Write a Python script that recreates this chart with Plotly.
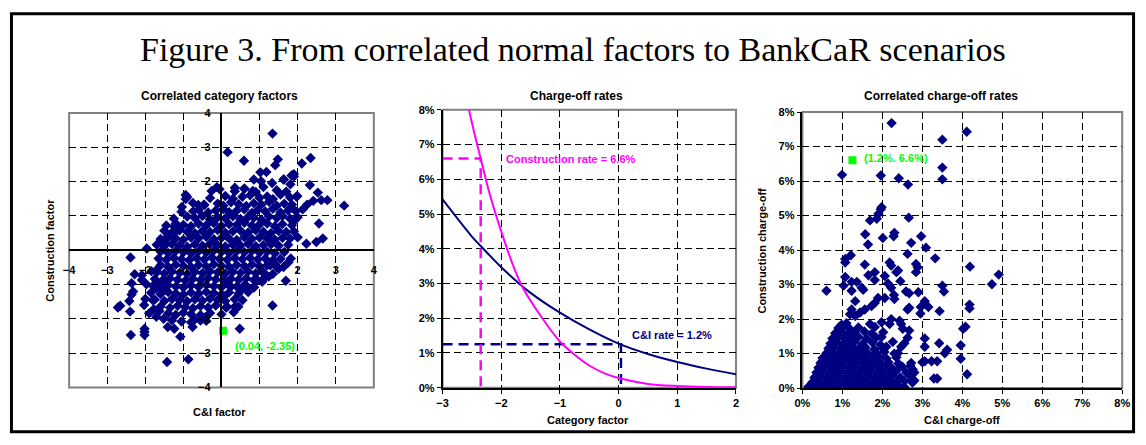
import plotly.graph_objects as go

W, H = 1146, 445

# ---------------------------------------------------------------- data
TITLE = "Figure 3. From correlated normal factors to BankCaR scenarios"
PANEL_TITLES = ["Correlated category factors", "Charge-off rates", "Correlated charge-off rates"]

# Panel 1 - dense core of simulated factors (C&I factor, Construction factor)
ci_factor_core = [
    -0.05, 0.35, 0.6, 0.9, 1.1, 1.45, 1.7,
    -0.9, -0.3, 0.1, 0.3, 0.55, 0.75, 1.0, 1.2, 1.35, 1.55, 1.8,
    -0.75, -0.45, -0.1, 0.05, 0.25, 0.45, 0.65, 0.85, 1.05, 1.25, 1.45, 1.65, 1.85,
    -1.05, -0.6, -0.35, -0.15, 0.05, 0.2, 0.4, 0.6, 0.8, 0.95, 1.15, 1.35, 1.55, 1.75, 1.95,
    -1.25, -0.9, -0.7, -0.5, -0.3, -0.1, 0.1, 0.3, 0.5, 0.7, 0.85, 1.05, 1.25, 1.45, 1.6, 1.8, 2.0,
    -1.45, -1.2, -1.0, -0.8, -0.6, -0.4, -0.2, 0.0, 0.2, 0.4, 0.6, 0.8, 1.0, 1.2, 1.4, 1.6, 1.85,
    -1.5, -1.3, -1.1, -0.9, -0.7, -0.5, -0.3, -0.1, 0.1, 0.3, 0.5, 0.7, 0.9, 1.1, 1.3, 1.5, 1.7, 1.9,
    -1.6, -1.4, -1.2, -1.0, -0.8, -0.6, -0.4, -0.2, 0.0, 0.2, 0.4, 0.6, 0.8, 1.0, 1.2, 1.4, 1.6, 1.8, 2.0,
    -1.7, -1.5, -1.3, -1.1, -0.9, -0.7, -0.5, -0.3, -0.1, 0.1, 0.3, 0.5, 0.7, 0.9, 1.1, 1.3, 1.5, 1.75,
    -1.6, -1.4, -1.2, -1.0, -0.8, -0.6, -0.4, -0.2, 0.0, 0.2, 0.4, 0.6, 0.8, 1.0, 1.2, 1.4, 1.65,
    -1.65, -1.45, -1.25, -1.05, -0.85, -0.65, -0.45, -0.25, -0.05, 0.15, 0.35, 0.55, 0.75, 0.95, 1.15, 1.35, 1.55,
    -1.6, -1.4, -1.2, -1.0, -0.8, -0.6, -0.4, -0.2, 0.0, 0.2, 0.4, 0.6, 0.8, 1.0, 1.2, 1.45,
    -1.7, -1.5, -1.3, -1.1, -0.9, -0.7, -0.5, -0.3, -0.1, 0.1, 0.3, 0.5, 0.7, 0.9, 1.1, 1.35,
    -1.75, -1.55, -1.35, -1.15, -0.95, -0.75, -0.55, -0.35, -0.15, 0.05, 0.25, 0.45, 0.65, 0.85, 1.1,
    -1.8, -1.6, -1.4, -1.2, -1.0, -0.8, -0.6, -0.4, -0.2, 0.0, 0.2, 0.4, 0.6, 0.85,
    -1.85, -1.6, -1.4, -1.2, -1.0, -0.8, -0.6, -0.4, -0.2, 0.0, 0.2, 0.45, 0.7,
    -1.75, -1.5, -1.3, -1.1, -0.9, -0.7, -0.5, -0.3, -0.1, 0.1, 0.35, 0.55,
    -1.6, -1.35, -1.15, -0.95, -0.75, -0.55, -0.35, -0.15, 0.15,
    -1.4, -1.2, -1.0, -0.8, -0.55, -0.3, 0.0,
    -1.3, -1.05, -0.7, -0.4,
]
con_factor_core = [
    1.78, 1.72, 1.80, 1.70, 1.84, 1.75, 1.71,
    1.55, 1.52, 1.58, 1.50, 1.56, 1.60, 1.53, 1.57, 1.49, 1.62, 1.54,
    1.38, 1.32, 1.36, 1.30, 1.40, 1.34, 1.29, 1.37, 1.33, 1.41, 1.30, 1.36, 1.33,
    1.12, 1.18, 1.10, 1.16, 1.20, 1.11, 1.15, 1.19, 1.09, 1.17, 1.13, 1.21, 1.10, 1.16, 1.14,
    0.92, 0.98, 0.94, 1.00, 0.90, 0.96, 0.93, 0.99, 0.91, 0.97, 0.95, 0.89, 0.98, 0.94, 1.00, 0.92, 0.96,
    0.72, 0.78, 0.74, 0.70, 0.77, 0.73, 0.79, 0.71, 0.76, 0.74, 0.80, 0.72, 0.75, 0.78, 0.70, 0.76, 0.73,
    0.57, 0.52, 0.58, 0.54, 0.50, 0.56, 0.53, 0.59, 0.51, 0.55, 0.57, 0.52, 0.58, 0.54, 0.50, 0.56, 0.53, 0.55,
    0.33, 0.38, 0.34, 0.31, 0.37, 0.35, 0.39, 0.32, 0.36, 0.34, 0.30, 0.38, 0.33, 0.37, 0.35, 0.31, 0.36, 0.34, 0.38,
    0.16, 0.12, 0.18, 0.14, 0.10, 0.17, 0.13, 0.19, 0.15, 0.11, 0.16, 0.14, 0.18, 0.12, 0.15, 0.17, 0.13, 0.16,
    -0.04, -0.08, -0.02, -0.06, -0.09, -0.03, -0.07, -0.01, -0.05, -0.08, -0.03, -0.06, -0.02, -0.07, -0.04, -0.09, -0.05,
    -0.24, -0.28, -0.22, -0.26, -0.29, -0.23, -0.27, -0.21, -0.25, -0.28, -0.23, -0.26, -0.22, -0.27, -0.24, -0.29, -0.25,
    -0.44, -0.48, -0.42, -0.46, -0.49, -0.43, -0.47, -0.41, -0.45, -0.48, -0.43, -0.46, -0.42, -0.47, -0.44, -0.49,
    -0.64, -0.68, -0.62, -0.66, -0.69, -0.63, -0.67, -0.61, -0.65, -0.68, -0.63, -0.66, -0.62, -0.67, -0.64, -0.69,
    -0.84, -0.88, -0.82, -0.86, -0.89, -0.83, -0.87, -0.81, -0.85, -0.88, -0.83, -0.86, -0.82, -0.87, -0.84,
    -1.04, -1.08, -1.02, -1.06, -1.09, -1.03, -1.07, -1.01, -1.05, -1.08, -1.03, -1.06, -1.02, -1.07,
    -1.24, -1.28, -1.22, -1.26, -1.29, -1.23, -1.27, -1.21, -1.25, -1.28, -1.23, -1.26, -1.22,
    -1.44, -1.48, -1.42, -1.46, -1.49, -1.43, -1.47, -1.41, -1.45, -1.48, -1.43, -1.46,
    -1.64, -1.68, -1.62, -1.66, -1.69, -1.63, -1.67, -1.61, -1.65,
    -1.84, -1.88, -1.82, -1.86, -1.89, -1.83, -1.87,
    -2.04, -2.08, -2.02, -2.06,
]
# Panel 1 - scattered outer points
ci_factor_tail = [
    -0.12, -0.26, -0.94, -0.94, -1.04, -0.74, -0.61, -0.46, -1.24, -1.15, -1.41, -1.50, -1.96,
    1.34, 0.16, 0.59, 1.48, 1.41, 2.11, 2.34, 1.02, 1.18, 0.85, 1.33, 1.63, 1.84, 1.90, 2.32,
    2.53, 2.41, 2.62, 2.78, 3.22, 2.25, 2.13, 2.56, 2.23, 2.49, 2.66, 1.97, 1.82, 1.93,
    -2.39, -2.28, -2.36, -2.09, -2.09, -1.97, -1.84, -1.71, -1.71, -1.71, -1.50, -1.46, -2.32,
    -2.36, -2.42, -2.72, -2.66, -2.40, -2.00, -2.03, -1.90, -1.78, -1.80, -1.71, -1.63, -1.52,
    -1.41, -1.24, -1.08, -2.38, -2.02, -2.02, -2.02, -1.43, -0.87, -0.76, -0.80, -0.55, -0.42,
    0.48, 1.34, 1.69, 0.35, 0.44, 0.32, 0.12, 0.07, 0.12, 0.25, 0.51, 0.68, 0.85, 0.94, 1.07,
    1.24, 1.28, 1.50, 1.63, 1.82, 1.76, 1.07, 1.41,
    1.64, 1.90, 1.81, 1.99, 0.35, 0.60, 0.82, 1.04,
]
con_factor_tail = [
    1.84, 1.73, 1.61, 1.49, 1.26, 1.14, 1.32, 1.33, 0.69, 0.59, 0.41, 0.22, 0.05,
    3.40, 2.86, 2.61, 2.65, 2.48, 2.53, 2.69, 2.27, 2.28, 2.06, 1.96, 2.06, 2.18, 2.22, 1.90,
    1.68, 1.44, 1.46, 1.46, 1.30, 1.33, 1.19, 0.78, 0.19, 0.24, 0.34, 1.56, 1.24, 0.88,
    -0.21, -0.70, -0.96, -0.73, -0.87, -0.99, -0.61, -0.58, -0.94, -1.10, -0.87, -1.15, -1.20,
    -1.29, -1.48, -1.67, -1.62, -1.79, -1.42, -1.60, -1.84, -1.72, -1.46, -1.94, -1.77, -2.00,
    -2.24, -2.29, -2.52, -2.47, -2.29, -2.38, -2.47, -3.26, -3.18, -2.24, -2.10, -2.05, -1.95,
    -2.29, -1.61, -0.89, -1.65, -1.65, -1.81, -1.67, -1.34, -0.92, -1.06, -1.15, -1.06, -1.09, -0.87, -0.92,
    -0.77, -0.44, -0.54, -0.49, -0.24, -0.35, -0.63, -0.40,
    2.06, 2.15, 1.92, 1.58, 1.82, 1.79, 1.73, 2.01,
]
scenario_ci_factor = [0.04]
scenario_con_factor = [-2.35]
scenario_factor_label = "(0.04, -2.35)"

# Panel 2 - charge-off rate curves (%) read along the category factor
curve_factor_ci = [-3.0, -2.5, -2.35, -2.0, -1.5, -1.0, -0.5, 0.0, 0.5, 1.0, 1.5, 2.0]
curve_rate_ci = [5.42, 4.35, 4.08, 3.47, 2.73, 2.16, 1.68, 1.27, 0.97, 0.74, 0.55, 0.39]
curve_factor_con = [-2.55, -2.45, -2.35, -2.2, -2.0, -1.8, -1.64, -1.3, -1.0, -0.75, -0.5,
                    -0.25, 0.0, 0.5, 1.0, 1.5, 2.0]
curve_rate_con = [8.0, 7.27, 6.6, 5.6, 4.5, 3.53, 2.9, 2.0, 1.33, 0.95, 0.64,
                  0.42, 0.28, 0.11, 0.05, 0.02, 0.01]
scenario_ci_rate = [1.25]
scenario_con_rate = [6.6]
rate_labels = ["Construction rate = 6.6%", "C&I rate = 1.2%"]

# Panel 3 - correlated charge-off rates (%), dense core
ci_rate_core = [
    0.15, 0.3, 0.45, 0.6, 0.75, 0.9, 1.05, 1.2, 1.35, 1.5, 1.65, 1.8, 1.95, 2.1, 2.25, 2.4, 2.55,
    0.25, 0.4, 0.55, 0.7, 0.85, 1.0, 1.15, 1.3, 1.45, 1.6, 1.75, 1.9, 2.05, 2.2, 2.35, 2.55, 2.75,
    0.3, 0.45, 0.6, 0.75, 0.9, 1.05, 1.2, 1.35, 1.5, 1.65, 1.8, 1.95, 2.1, 2.25, 2.45, 2.7,
    0.35, 0.5, 0.65, 0.8, 0.95, 1.1, 1.25, 1.4, 1.55, 1.7, 1.85, 2.0, 2.15, 2.35, 2.6,
    0.4, 0.55, 0.7, 0.85, 1.0, 1.15, 1.3, 1.45, 1.6, 1.75, 1.9, 2.05, 2.25, 2.5,
    0.45, 0.6, 0.75, 0.9, 1.05, 1.2, 1.35, 1.5, 1.65, 1.8, 1.95, 2.15, 2.4,
    0.5, 0.68, 0.82, 0.97, 1.12, 1.27, 1.42, 1.57, 1.72, 1.9, 2.1, 2.35,
    0.6, 0.75, 0.9, 1.05, 1.2, 1.35, 1.5, 1.65, 1.85, 2.05, 2.3,
    0.65, 0.8, 0.95, 1.1, 1.25, 1.4, 1.58, 1.8, 2.0,
    0.7, 0.85, 1.0, 1.15, 1.3, 1.5, 1.75, 1.95,
    0.75, 0.9, 1.05, 1.2, 1.4, 1.6, 1.85,
    0.82, 0.97, 1.12, 1.3, 1.55,
    0.9, 1.02, 1.18, 1.4,
    0.98, 1.1,
]
con_rate_core = [
    0.04, 0.08, 0.03, 0.07, 0.05, 0.02, 0.09, 0.04, 0.06, 0.03, 0.08, 0.05, 0.02, 0.07, 0.04, 0.06, 0.03,
    0.17, 0.21, 0.15, 0.19, 0.22, 0.16, 0.20, 0.14, 0.18, 0.21, 0.16, 0.19, 0.15, 0.22, 0.17, 0.20, 0.16,
    0.31, 0.35, 0.29, 0.33, 0.36, 0.30, 0.34, 0.28, 0.32, 0.35, 0.30, 0.33, 0.29, 0.36, 0.31, 0.34,
    0.45, 0.49, 0.43, 0.47, 0.50, 0.44, 0.48, 0.42, 0.46, 0.49, 0.44, 0.47, 0.43, 0.50, 0.45,
    0.59, 0.63, 0.57, 0.61, 0.64, 0.58, 0.62, 0.56, 0.60, 0.63, 0.58, 0.61, 0.57, 0.62,
    0.73, 0.77, 0.71, 0.75, 0.78, 0.72, 0.76, 0.70, 0.74, 0.77, 0.72, 0.75, 0.71,
    0.87, 0.91, 0.85, 0.89, 0.92, 0.86, 0.90, 0.84, 0.88, 0.91, 0.86, 0.89,
    1.01, 1.05, 0.99, 1.03, 1.06, 1.00, 1.04, 0.98, 1.02, 1.05, 1.00,
    1.15, 1.19, 1.13, 1.17, 1.20, 1.14, 1.18, 1.12, 1.16,
    1.29, 1.33, 1.27, 1.31, 1.34, 1.28, 1.32, 1.26,
    1.44, 1.48, 1.42, 1.46, 1.49, 1.43, 1.47,
    1.59, 1.63, 1.57, 1.61, 1.64,
    1.74, 1.78, 1.72, 1.76,
    1.84, 1.88,
]
# Panel 3 - scattered outer points (%)
ci_rate_tail = [
    2.23, 3.50, 3.50, 3.50, 0.99, 1.96, 2.41, 2.64, 1.98, 1.96, 1.90, 1.86, 1.69, 2.66, 1.57,
    2.01, 1.64, 2.30, 2.28, 2.72, 2.97, 3.09, 4.11,
    1.21, 1.07, 1.07, 1.56, 2.18, 2.22, 2.63, 2.84, 2.88, 2.84, 3.32, 1.65, 1.81, 1.81, 2.06,
    2.14, 2.35, 2.39, 1.07, 1.03, 0.60, 1.23, 1.36, 1.48, 1.52, 1.23, 2.45, 2.22, 2.29, 2.30,
    2.59, 2.67, 2.90, 3.06, 3.15, 2.96, 2.67, 2.63, 2.95, 3.43, 3.50, 3.54, 1.89, 2.06, 1.81,
    1.73, 1.56, 1.32, 1.23, 1.19, 1.32, 1.44, 1.69, 1.73, 1.81, 1.98, 2.02, 1.98, 2.18, 2.22,
    2.43, 2.47, 2.51, 2.63, 2.67, 3.06, 3.06, 3.42, 3.62, 3.56, 3.00, 3.06, 3.23, 3.37, 3.29,
    3.37, 2.72, 2.72, 2.70, 2.76, 2.80, 2.80, 2.47, 2.55, 2.39, 2.26, 2.10,
    4.19, 4.91, 4.74, 4.18, 4.18, 4.08, 4.02, 3.96, 3.96, 4.12,
]
con_rate_tail = [
    7.68, 7.20, 6.39, 6.05, 6.18, 6.16, 6.08, 5.90, 5.24, 5.18, 5.05, 4.91, 4.86, 4.94, 4.46,
    4.35, 4.16, 4.50, 4.40, 4.21, 4.40, 4.07, 7.43,
    3.85, 3.74, 3.64, 3.58, 3.64, 3.55, 3.89, 3.60, 3.50, 3.36, 3.76, 3.27, 3.36, 3.13, 3.25,
    3.03, 3.36, 3.41, 3.22, 2.97, 2.82, 3.08, 3.08, 2.91, 2.85, 2.82, 3.10, 2.91, 2.70, 2.58,
    2.80, 2.75, 2.78, 2.52, 2.35, 2.35, 2.33, 2.28, 2.16, 2.23, 2.97, 2.80, 2.61, 2.61, 2.47,
    2.38, 2.28, 2.52, 2.28, 2.14, 2.09, 2.19, 1.86, 1.58, 1.77, 1.91, 1.62, 1.48, 1.86, 2.00,
    1.95, 1.86, 1.72, 1.46, 1.67, 1.44, 1.20, 1.30, 1.11, 1.01, 0.75, 0.78, 0.78, 0.78, 0.28,
    0.28, 0.22, 0.73, 0.64, 0.54, 0.45, 0.22, 1.20, 1.30, 1.01, 1.34, 1.20,
    3.52, 3.29, 3.01, 2.42, 2.31, 1.78, 1.72, 1.24, 0.85, 0.40,
]
scenario_rate_label = "(1.2%. 6.6%)"

# ---------------------------------------------------------------- style
NAVY = "#000080"
MAGENTA = "#FF00FF"
GREEN = "#00FF00"
SANS = "Liberation Sans, Arial, sans-serif"
GRID = dict(showgrid=True, gridcolor="#000000", gridwidth=1, griddash="7px,4px")
TICKFONT = dict(family=SANS, size=11, color="black", weight="bold")
MSIZE = 8


def dom_x(a, b):
    return [a / W, b / W]


def dom_y(top, bottom):
    return [1 - bottom / H, 1 - top / H]


P1X, P1Y = dom_x(62, 371), dom_y(110, 392)
P2X, P2Y = dom_x(440.7, 738.3), dom_y(106.7, 392.3)
P3X, P3Y = dom_x(805.7, 1130), dom_y(109, 392.7)

fig = go.Figure()

# Panel 1
fig.add_trace(go.Scatter(x=ci_factor_core + ci_factor_tail, y=con_factor_core + con_factor_tail,
                         mode="markers", marker=dict(symbol="diamond", size=MSIZE, color=NAVY),
                         xaxis="x", yaxis="y", showlegend=False, hoverinfo="skip"))
fig.add_trace(go.Scatter(x=scenario_ci_factor, y=scenario_con_factor, mode="markers",
                         marker=dict(symbol="square", size=8, color=GREEN),
                         xaxis="x", yaxis="y", showlegend=False))

# Panel 2
fig.add_trace(go.Scatter(x=[curve_factor_ci[0], scenario_ci_factor[0], scenario_ci_factor[0]],
                         y=[scenario_ci_rate[0], scenario_ci_rate[0], 0],
                         mode="lines", line=dict(color=NAVY, width=2.5, dash="10px,6px"),
                         xaxis="x2", yaxis="y2", showlegend=False))
fig.add_trace(go.Scatter(x=[curve_factor_ci[0], scenario_con_factor[0], scenario_con_factor[0]],
                         y=[scenario_con_rate[0], scenario_con_rate[0], 0],
                         mode="lines", line=dict(color=MAGENTA, width=2.5, dash="10px,6px"),
                         xaxis="x2", yaxis="y2", showlegend=False))
fig.add_trace(go.Scatter(x=curve_factor_ci, y=curve_rate_ci, mode="lines",
                         line=dict(color=NAVY, width=2, shape="spline", smoothing=0.8),
                         xaxis="x2", yaxis="y2", showlegend=False))
fig.add_trace(go.Scatter(x=curve_factor_con, y=curve_rate_con, mode="lines",
                         line=dict(color=MAGENTA, width=2, shape="spline", smoothing=0.8),
                         xaxis="x2", yaxis="y2", showlegend=False))

# Panel 3
fig.add_trace(go.Scatter(x=ci_rate_core + ci_rate_tail, y=con_rate_core + con_rate_tail,
                         mode="markers", marker=dict(symbol="diamond", size=MSIZE, color=NAVY),
                         xaxis="x3", yaxis="y3", showlegend=False, hoverinfo="skip"))
fig.add_trace(go.Scatter(x=scenario_ci_rate, y=scenario_con_rate, mode="markers",
                         marker=dict(symbol="square", size=8, color=GREEN),
                         xaxis="x3", yaxis="y3", showlegend=False))

fig.update_layout(
    width=W, height=H, margin=dict(l=0, r=0, t=0, b=0),
    paper_bgcolor="white", plot_bgcolor="white", showlegend=False, hovermode=False,
    xaxis=dict(domain=P1X, anchor="free", position=(P1Y[0] + P1Y[1]) / 2, range=[-4, 4], dtick=1,
               showline=True, linecolor="black", linewidth=1.5, zeroline=False, ticks="",
               ticklabelstandoff=10, tickfont=TICKFONT, **GRID),
    yaxis=dict(domain=P1Y, anchor="free", position=(P1X[0] + P1X[1]) / 2, range=[-4, 4], dtick=1,
               showline=True, linecolor="black", linewidth=1.5, zeroline=False, ticks="",
               ticklabelstandoff=8, tickfont=TICKFONT, **GRID),
    xaxis2=dict(domain=P2X, anchor="y2", range=[-3, 2], dtick=1, showline=True, linecolor="black",
                linewidth=2, zeroline=False, ticks="outside", ticklen=4, tickcolor="black",
                tickfont=TICKFONT, **GRID),
    yaxis2=dict(domain=P2Y, anchor="x2", range=[0, 8], dtick=1, ticksuffix="%", showline=True,
                linecolor="black", linewidth=1.5, zeroline=False, ticks="outside", ticklen=4,
                tickcolor="black", tickfont=TICKFONT, **GRID),
    xaxis3=dict(domain=P3X, anchor="y3", range=[0, 8], dtick=1, ticksuffix="%", showline=True,
                linecolor="black", linewidth=2, zeroline=False, ticks="outside", ticklen=4,
                tickcolor="black", tickfont=TICKFONT, **GRID),
    yaxis3=dict(domain=P3Y, anchor="x3", range=[0, 8], dtick=1, ticksuffix="%", showline=True,
                linecolor="black", linewidth=1.5, zeroline=False, ticks="outside", ticklen=4,
                tickcolor="black", tickfont=TICKFONT, **GRID),
)

# frames and outer border
shapes = [dict(type="rect", xref="paper", yref="paper", x0=3.5 / W, x1=1141.5 / W,
               y0=1 - 437.5 / H, y1=1 - 8 / H, line=dict(color="black", width=3))]
for xr, yr in [("x", "y"), ("x2", "y2"), ("x3", "y3")]:
    shapes.append(dict(type="rect", xref=f"{xr} domain", yref=f"{yr} domain", x0=0, x1=1, y0=0, y1=1,
                       line=dict(color="#808080", width=2), layer="below"))
fig.update_layout(shapes=shapes)


def ann(text, x, y, size=11, color="black", angle=0, family=SANS, bold=True, xanchor="center"):
    return dict(text=text, x=x / W, y=1 - y / H, xref="paper", yref="paper", showarrow=False,
                xanchor=xanchor, yanchor="middle", textangle=angle,
                font=dict(family=family, size=size, color=color, weight="bold" if bold else "normal"))


annotations = [
    ann(TITLE, 573, 45, size=34, family="Liberation Serif, Times New Roman, serif", bold=False),
    ann(PANEL_TITLES[0], 215, 93, size=12),
    ann(PANEL_TITLES[1], 577, 93, size=12),
    ann(PANEL_TITLES[2], 946, 93, size=12),
    ann("Construction factor", 43, 251, angle=-90),
    ann("C&I factor", 215, 417),
    ann("Category factor", 588, 425),
    ann("Construction charge-off", 765, 251, angle=-90),
    ann("C&I charge-off", 968, 425),
]
annotations += [
    dict(text=scenario_factor_label, x=0.29, y=-2.8, xref="x", yref="y", showarrow=False,
         xanchor="left", font=dict(family=SANS, size=11, color=GREEN, weight="bold")),
    dict(text=rate_labels[0], x=-1.96, y=6.57, xref="x2", yref="y2", showarrow=False,
         xanchor="left", font=dict(family=SANS, size=11, color=MAGENTA, weight="bold")),
    dict(text=rate_labels[1], x=0.19, y=1.51, xref="x2", yref="y2", showarrow=False,
         xanchor="left", font=dict(family=SANS, size=11, color=NAVY, weight="bold")),
    dict(text=scenario_rate_label, x=1.49, y=6.67, xref="x3", yref="y3", showarrow=False,
         xanchor="left", font=dict(family=SANS, size=11, color=GREEN, weight="bold")),
]
fig.update_layout(annotations=annotations)

fig.write_html("out.html", config={"displayModeBar": False},
               post_script="document.body.style.margin='0px';")
